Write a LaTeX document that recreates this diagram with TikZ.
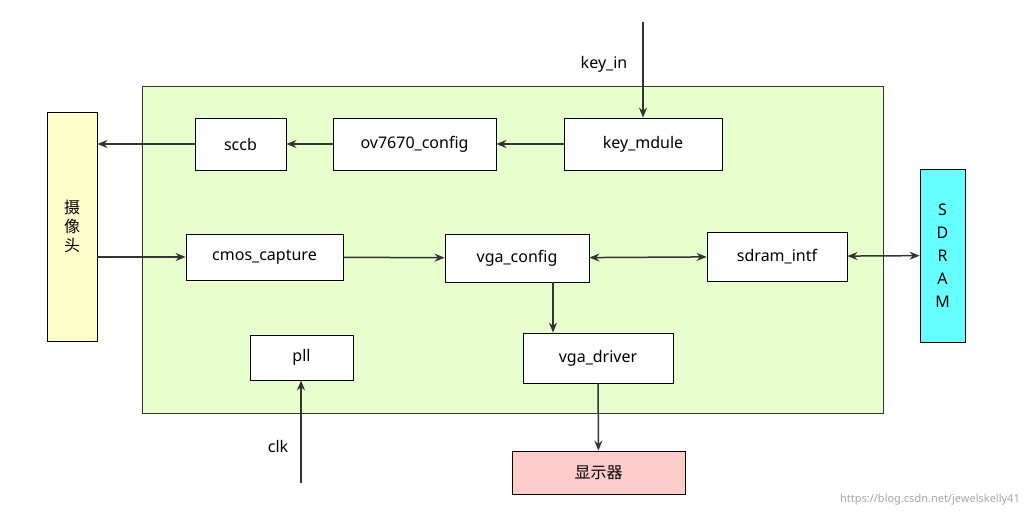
\documentclass[tikz,border=0pt]{standalone}
\usepackage{fontspec}
\setmainfont{Noto Sans}
\newfontfamily\cjk{Noto Sans CJK SC}
\usetikzlibrary{arrows.meta}
\definecolor{lineColor}{RGB}{51,51,51}
\definecolor{greenFill}{RGB}{230,255,204}
\definecolor{camFill}{RGB}{255,255,204}
\definecolor{ramFill}{RGB}{102,255,255}
\definecolor{dispFill}{RGB}{255,204,204}
\tikzset{
  blk/.style={draw=black,line width=0.8pt,fill=white,inner sep=0pt,font=\fontsize{16}{18}\selectfont},
  link/.style={draw=lineColor,line width=1.5pt,-{Stealth[length=10pt,width=8pt]}},
  biLink/.style={draw=lineColor,line width=1.5pt,{Stealth[length=10pt,width=8pt]}-{Stealth[length=10pt,width=8pt]}},
  lbl/.style={font=\fontsize{16}{18}\selectfont,inner sep=0pt}
}
\begin{document}
\begin{tikzpicture}[x=1pt,y=-1pt]
\path[use as bounding box,fill=white] (0,0) rectangle (1027,519);

% top module
\path[draw=lineColor,line width=0.8pt,fill=greenFill] (142,86) rectangle (883,413);

% blocks
\node[blk,minimum width=50pt,minimum height=229pt,fill=camFill,align=center,font=\cjk\fontsize{16}{19}\selectfont] (cam) at (72,226.5) {摄\\像\\头};
\node[blk,minimum width=45pt,minimum height=173pt,fill=ramFill,align=center] (ram) at (942.5,255.5) {S\\[5pt]D\\[5pt]R\\[5pt]A\\[5pt]M};
\node[blk,minimum width=91pt,minimum height=52pt] (sccb) at (240.5,144) {sccb};
\node[blk,minimum width=163pt,minimum height=52pt] (ovcfg) at (414.5,144) {ov7670\_config};
\node[blk,minimum width=158pt,minimum height=52pt] (key) at (643,144) {key\_mdule};
\node[blk,minimum width=157pt,minimum height=46pt] (cmos) at (264.5,257) {cmos\_capture};
\node[blk,minimum width=144pt,minimum height=48pt] (vgacfg) at (517,258) {vga\_config};
\node[blk,minimum width=140pt,minimum height=49pt] (sdram) at (777,256.5) {sdram\_intf};
\node[blk,minimum width=103pt,minimum height=45pt] (pll) at (301.5,357.5) {pll};
\node[blk,minimum width=150pt,minimum height=50pt] (vgadrv) at (598,358) {vga\_driver};
\node[blk,minimum width=173pt,minimum height=43pt,fill=dispFill,font=\cjk\fontsize{16}{18}\selectfont] (disp) at (598.5,472.5) {显示器};

% free ends
\coordinate (keyIn) at (643,22);
\coordinate (clkIn) at (301,483);
\node[lbl] (keyLbl) at (604,64) {key\_in};
\node[lbl] (clkLbl) at (278,446) {clk};

% connectors
\draw[link] (keyIn) -- (key.north);
\draw[link] (key) -- (ovcfg);
\draw[link] (ovcfg) -- (sccb);
\draw[link] (sccb.west) -- (sccb.west -| cam.east);
\draw[link] (cam.east |- cmos.west) -- (cmos.west);
\draw[link] (cmos) -- (vgacfg);
\draw[biLink] (vgacfg) -- (sdram);
\draw[biLink] (sdram) -- (ram);
\draw[link] (vgacfg.south -| 553,0) -- (vgadrv.north -| 553,0);
\draw[link] (vgadrv) -- (disp);
\draw[link] (clkIn) -- (pll.south -| clkIn);

% watermark
\node[font=\fontsize{11}{12}\selectfont,text=black!35,anchor=east,inner sep=0pt] (mark) at (1020,500) {https://blog.csdn.net/jewelskelly41};
\end{tikzpicture}
\end{document}
